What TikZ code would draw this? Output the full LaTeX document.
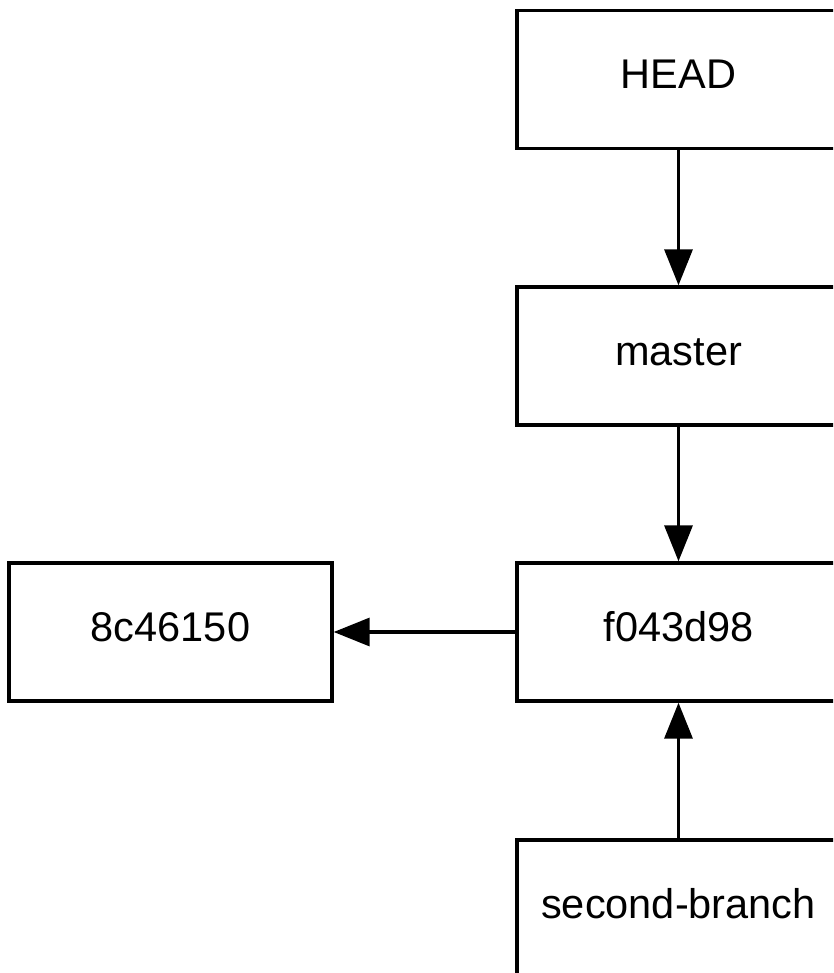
\documentclass[tikz,border=0pt]{standalone}
\usepackage{fontspec}
\setmainfont{Liberation Sans}
\usetikzlibrary{arrows.meta}
\begin{document}
\begin{tikzpicture}[x=1pt,y=-1pt,
  refbox/.style={draw=black,line width=3.4pt,fill=white,minimum width=323pt,minimum height=138pt,inner sep=0pt,text height=30pt,text depth=11pt,font=\fontsize{41.5}{48}\selectfont},
  link/.style={line width=3.4pt,-{Triangle[length=36pt,width=28pt]}}]
\useasboundingbox (0,0) rectangle (833,973);
\clip (0,0) rectangle (833,973);
\fill[white] (0,0) rectangle (833,973);
\node[refbox] (head) at (678.5,79.5) {HEAD};
\node[refbox] (master) at (678.5,356) {master};
\node[refbox] (commit) at (678.5,632) {f043d98};
\node[refbox] (parent) at (170.5,632) {8c46150};
\node[refbox] (branch) at (678.5,909) {second-branch};
\draw[link] (head.south) -- (master.north);
\draw[link] (master.south) -- (commit.north);
\draw[link] (commit.west) -- (parent.east);
\draw[link] (branch.north) -- (commit.south);
\end{tikzpicture}
\end{document}
